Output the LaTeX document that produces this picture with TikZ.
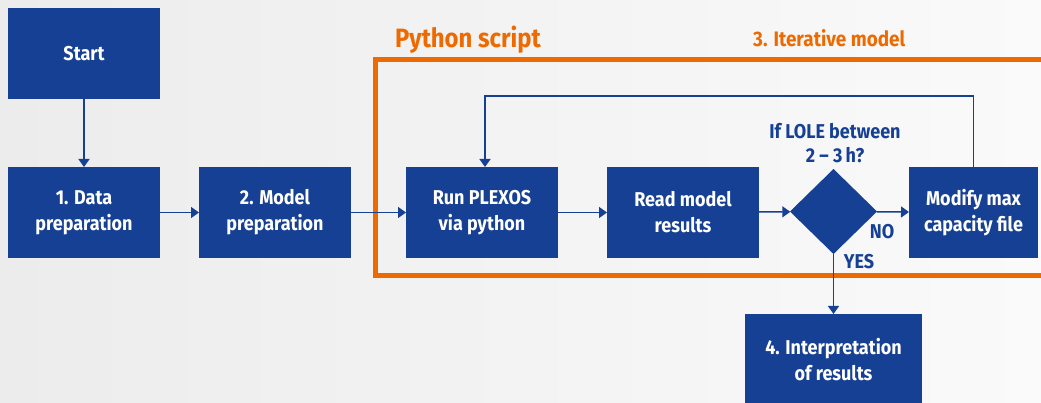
\documentclass[tikz,border=0pt]{standalone}
\usepackage{fontspec}
\setmainfont{Fira Sans}[FakeStretch=0.9]
\usetikzlibrary{arrows.meta,shapes.geometric}

\begin{document}
\begin{tikzpicture}[x=1pt,y=1pt,
  stepbox/.style={fill=boxColor,text=white,inner sep=0pt,outer sep=0pt,
    minimum width=152,minimum height=91,align=center,
    font=\bfseries\fontsize{20}{26}\selectfont},
  decision/.style={diamond,fill=boxColor,inner sep=0pt,outer sep=0pt,
    minimum width=87,minimum height=85},
  flow/.style={draw=boxColor,line width=1.5pt,-{Triangle[width=11pt,length=8pt]}},
  plain/.style={draw=boxColor,line width=1.5pt},
  bluetext/.style={text=boxColor,align=center,inner sep=0pt,
    font=\bfseries\fontsize{20}{24}\selectfont},
  orangetext/.style={text=frameColor,inner sep=0pt}]
\definecolor{boxColor}{RGB}{22,64,148}
\definecolor{frameColor}{RGB}{238,106,0}
\definecolor{leftColor}{RGB}{236,236,236}
\definecolor{rightColor}{RGB}{250,250,250}
\useasboundingbox (0,0) rectangle (1041,403);
\begin{scope}
\path[clip] (0,0) rectangle (1041,403);
\path[left color=leftColor,right color=rightColor] (0,0) rectangle (1041,403);

% python frame
\path[draw=frameColor,line width=5pt] (375.50,127.50) rectangle (1050.00,343.00);
\node[orangetext,anchor=base west,font=\bfseries\fontsize{26.5}{30}\selectfont] (pytitle) at (395.00,355.00) {Python script};
\node[orangetext,anchor=base west,font=\bfseries\fontsize{21}{24}\selectfont] (itertitle) at (753.00,356.00) {3. Iterative model};

\node[stepbox] (start) at ( 84.00,349.50) {Start};
\node[stepbox] (data) at ( 84.00,190.50) {1. Data\\preparation};
\node[stepbox] (model) at (275.00,190.50) {2. Model\\preparation};
\node[stepbox] (run) at (482.00,190.50) {Run PLEXOS\\via python};
\node[stepbox] (read) at (683.00,190.50) {Read model\\results};
\node[decision] (check) at (833.50,191.50) {};
\node[stepbox,minimum width=129] (modify) at (973.50,190.50) {Modify max\\capacity file};
\node[stepbox,minimum width=177] (interp) at (833.50, 43.50) {4. Interpretation\\of results};

\node[bluetext] (question) at (835.00,260.00) {If LOLE between\\2 -- 3\,h?};
\node[bluetext] (no) at (882.00,171.50) {NO};
\node[bluetext] (yes) at (859.00,141.00) {YES};

\draw[flow] (start) -- (data);
\draw[flow] (data) -- (model);
\draw[flow] (model) -- (run);
\draw[flow] (run) -- (read);
\draw[flow] (read) -- (check);
\draw[flow] (check) -- (modify);
\draw[flow] (check) -- (interp);

\coordinate (loop) at (973.50,307.00);
\draw[plain] (modify.north) -- (loop);
\draw[flow] (loop) -| ([xshift=3pt]run.north);
\end{scope}
\end{tikzpicture}
\end{document}
